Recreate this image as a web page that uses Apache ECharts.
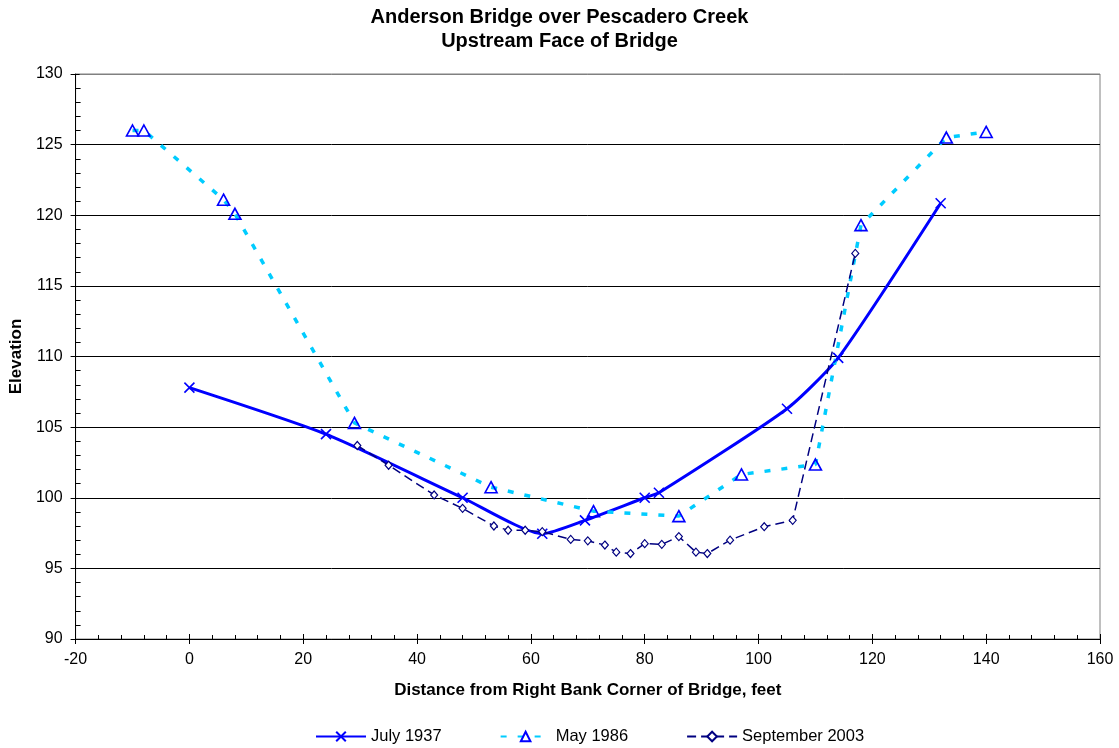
<!DOCTYPE html>
<html>
<head>
<meta charset="utf-8">
<script src="https://cdn.jsdelivr.net/npm/echarts@6/dist/echarts.min.js"></script>
<style>
html,body{margin:0;padding:0;background:#fff;}
#chart{width:1119px;height:748px;}
</style>
</head>
<body>
<div id="chart"></div>
<script>
// ---- Data ----
var titleLines = ['Anderson Bridge over Pescadero Creek', 'Upstream Face of Bridge'];
var seriesNames = ['July 1937', 'May 1986', 'September 2003'];

var july1937X = [0, 24, 48, 62, 69.5, 80, 82.5, 105, 114, 132];
var july1937Y = [107.8, 104.5, 100.0, 97.45, 98.4, 100.0, 100.35, 106.3, 109.9, 120.85];

var may1986X = [-10, -8, 6, 8, 29, 53, 71, 86, 97, 110, 118, 133, 140];
var may1986Y = [126.0, 126.0, 121.1, 120.1, 105.3, 100.75, 99.05, 98.7, 101.65, 102.35, 119.3, 125.5, 125.9];

var sep2003X = [29.5, 35, 43, 48, 53.5, 56, 59, 62, 67, 70, 73, 75, 77.5, 80, 83, 86, 89, 91, 95, 101, 106, 117];
var sep2003Y = [103.7, 102.3, 100.2, 99.25, 98.0, 97.7, 97.7, 97.6, 97.05, 96.95, 96.65, 96.15, 96.05, 96.75, 96.7, 97.25, 96.15, 96.05, 97.0, 97.95, 98.4, 117.3];

var xAxisName = 'Distance from Right Bank Corner of Bridge, feet';
var yAxisName = 'Elevation';

function pairs(xs, ys) { return xs.map(function (x, i) { return [x, ys[i]]; }); }

var FONT = '"Liberation Sans", Arial, sans-serif';
var chart = echarts.init(document.getElementById('chart'), null, { renderer: 'canvas' });

var gridColors = ['#000', '#000', '#000', '#000', '#000', '#000', '#000', '#000', '#808080'];

var option = {
  animation: false,
  backgroundColor: '#fff',
  title: {
    text: titleLines.join('\n'),
    left: 'center',
    top: 0,
    textStyle: { fontFamily: FONT, fontSize: 20, fontWeight: 'bold', color: '#000', lineHeight: 24 }
  },
  legend: {
    left: 310,
    top: 723,
    itemWidth: 50,
    itemHeight: 12,
    itemGap: 58,
    textStyle: { fontFamily: FONT, fontSize: 16.5, color: '#000' },
    data: seriesNames
  },
  grid: {
    left: 75, right: 19, top: 74, bottom: 109,
    show: true, borderColor: '#808080', borderWidth: 1, backgroundColor: 'transparent'
  },
  xAxis: [{
    type: 'value', min: -20, max: 160, interval: 20, position: 'bottom',
    name: xAxisName, nameLocation: 'middle', nameGap: 43,
    nameTextStyle: { fontFamily: FONT, fontSize: 17, fontWeight: 'bold', color: '#000' },
    axisLine: { show: true, onZero: false, lineStyle: { color: '#000', width: 1 } },
    axisTick: { show: true, inside: true, length: 5, lineStyle: { color: '#000' } },
    minorTick: { show: true, splitNumber: 5, length: 4, lineStyle: { color: '#000' } },
    axisLabel: { fontFamily: FONT, fontSize: 16, color: '#000', margin: 13 },
    splitLine: { show: false }
  }, {
    type: 'value', min: -20, max: 160, interval: 20, position: 'bottom',
    axisLine: { show: false, onZero: false },
    axisTick: { show: true, inside: false, length: 5, lineStyle: { color: '#000' } },
    axisLabel: { show: false },
    splitLine: { show: false }
  }],
  yAxis: [{
    type: 'value', min: 90, max: 130, interval: 5, position: 'left',
    name: yAxisName, nameLocation: 'middle', nameGap: 50, nameRotate: 90,
    nameTextStyle: { fontFamily: FONT, fontSize: 17, fontWeight: 'bold', color: '#000' },
    axisLine: { show: true, onZero: false, lineStyle: { color: '#000', width: 1 } },
    axisTick: { show: true, inside: true, length: 4, lineStyle: { color: '#000' } },
    minorTick: { show: true, splitNumber: 5, length: 5, lineStyle: { color: '#000' } },
    axisLabel: { fontFamily: FONT, fontSize: 16, color: '#000', margin: 13 },
    splitLine: { show: true, lineStyle: { color: gridColors, width: 1 } }
  }, {
    type: 'value', min: 90, max: 130, interval: 5, position: 'left',
    axisLine: { show: false, onZero: false },
    axisTick: { show: true, inside: false, length: 5, lineStyle: { color: '#000' } },
    axisLabel: { show: false },
    splitLine: { show: false }
  }],
  series: [{
    name: seriesNames[0], type: 'line', xAxisIndex: 0, yAxisIndex: 0,
    data: pairs(july1937X, july1937Y),
    smooth: 0.2,
    symbol: 'path://M0,0L10,10M0,10L10,0', symbolSize: 10,
    lineStyle: { color: '#0000FF', width: 3 },
    itemStyle: { color: '#0000FF', borderColor: '#0000FF', borderWidth: 1.6 }
  }, {
    name: seriesNames[1], type: 'line', xAxisIndex: 0, yAxisIndex: 0,
    data: pairs(may1986X, may1986Y),
    symbol: 'triangle', symbolSize: [12, 11],
    lineStyle: { color: '#00CCFF', width: 3.5, type: [6, 11] },
    itemStyle: { color: 'rgba(255,255,255,0)', borderColor: '#0000FF', borderWidth: 1.6 }
  }, {
    name: seriesNames[2], type: 'line', xAxisIndex: 0, yAxisIndex: 0,
    data: pairs(sep2003X, sep2003Y),
    symbol: 'diamond', symbolSize: [7, 8],
    lineStyle: { color: '#000080', width: 1.5, type: [9, 5] },
    itemStyle: { color: '#fff', borderColor: '#000080', borderWidth: 1.2 }
  }]
};
chart.setOption(option);
</script>
</body>
</html>
